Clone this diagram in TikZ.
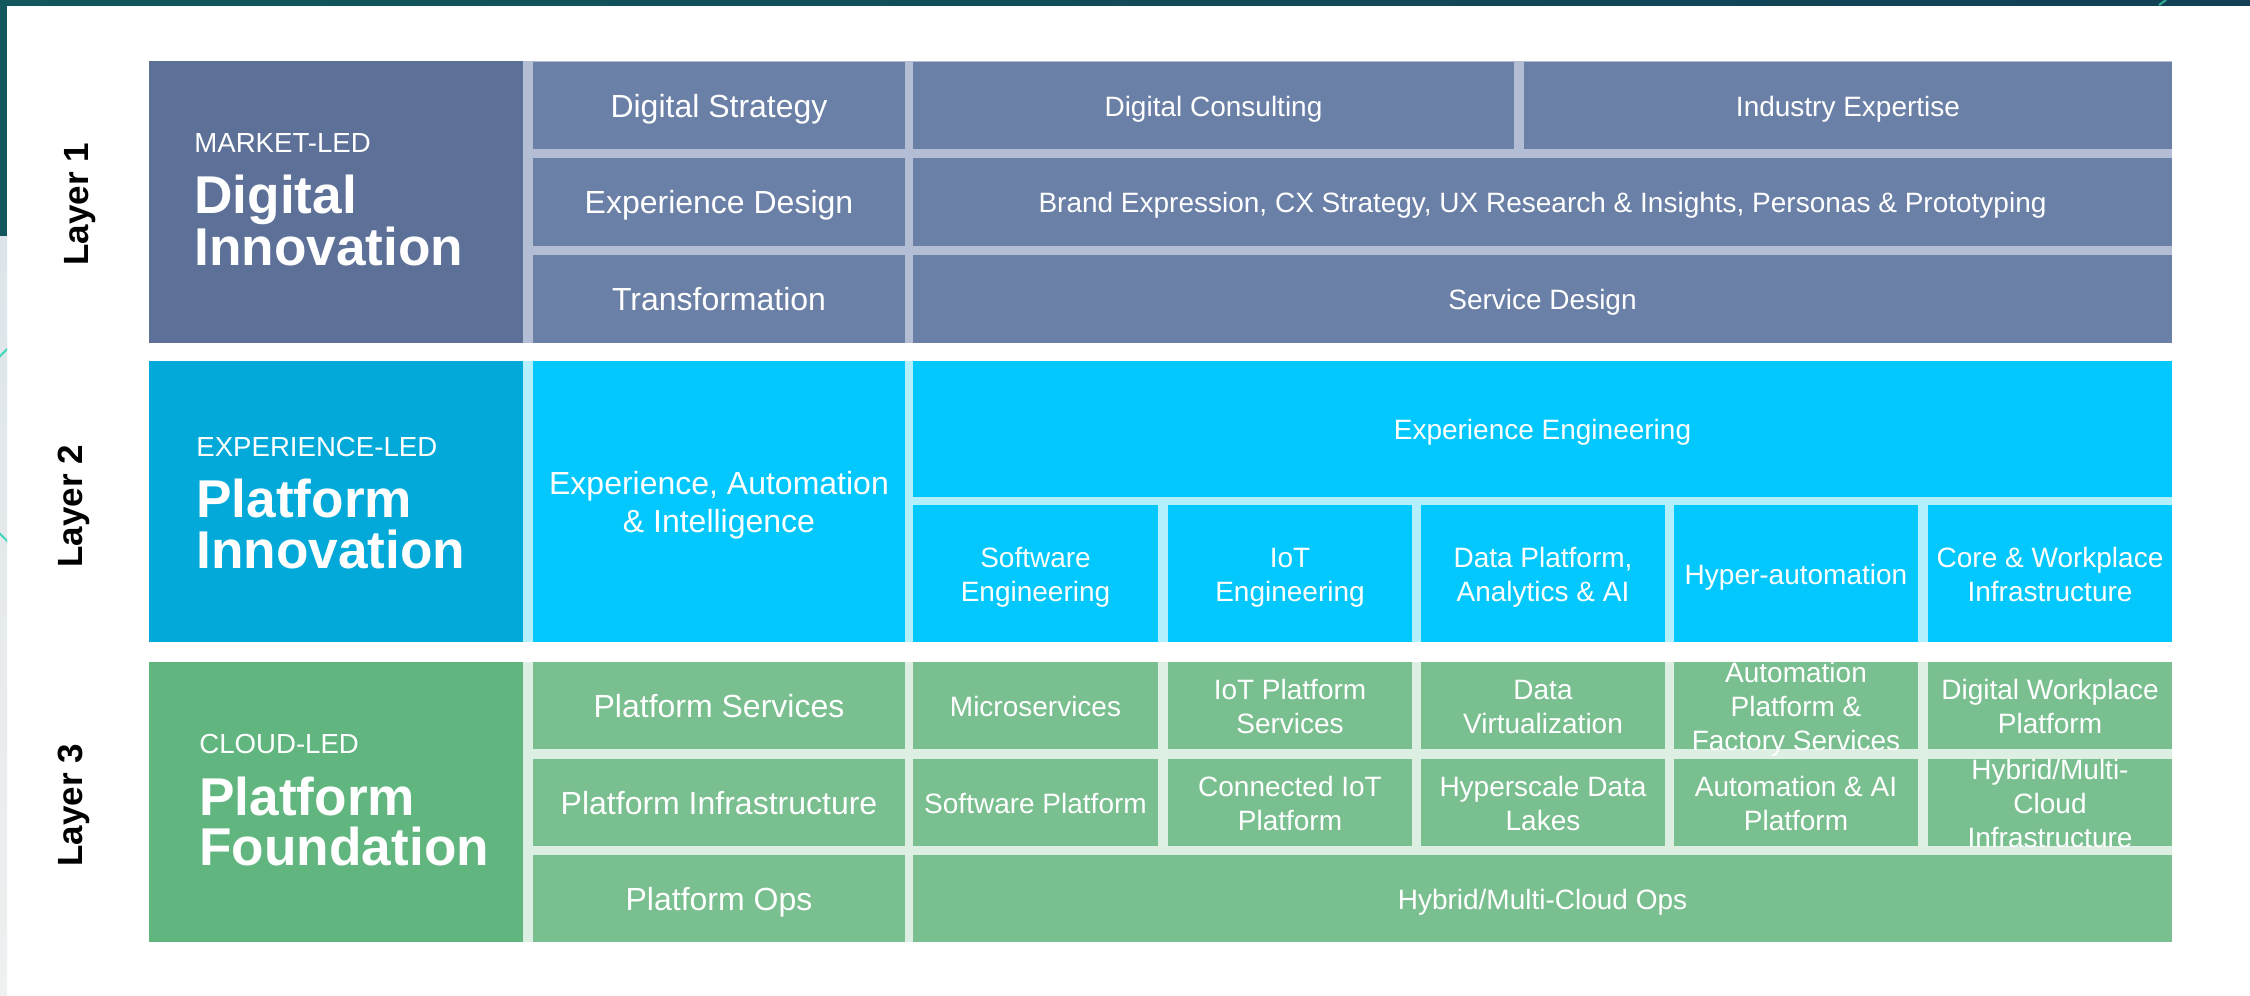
\documentclass[tikz,border=0pt]{standalone}
\usepackage{fontspec}
\setmainfont{Liberation Sans}
\pgfdeclarelayer{back}
\pgfsetlayers{back,main}
\definecolor{lAdark}{HTML}{5D7098}
\definecolor{lAcell}{HTML}{6B80A7}
\definecolor{lAgap}{HTML}{B3BDD3}
\definecolor{lBdark}{HTML}{03AAD9}
\definecolor{lBcell}{HTML}{03C8FD}
\definecolor{lBgap}{HTML}{B4EFFD}
\definecolor{lCdark}{HTML}{61B67F}
\definecolor{lCcell}{HTML}{7ABF8F}
\definecolor{lCgap}{HTML}{DDEEE3}
\definecolor{bandA}{HTML}{11575C}
\definecolor{bandB}{HTML}{123F55}
\definecolor{stripA}{HTML}{DDE5EA}
\definecolor{stripB}{HTML}{EFF0F0}
\definecolor{arcteal}{HTML}{3FD9B8}
% style, name, fill, x1, y1, x2, y2, text
\newcommand\mkcell[8]{%
  \begin{pgfonlayer}{back}\fill[#3] (#4,#5) rectangle (#6,#7);\end{pgfonlayer}
  \node[#1] (#2) at ({(#4+#6)/2},{(#5+#7)/2}) {\begin{tabular}{@{}c@{}}#8\end{tabular}};}
\begin{document}
\begin{tikzpicture}[x=0.5pt,y=-0.5pt,
  ctxt/.style={font=\fontsize{14}{17}\selectfont, text=white, inner sep=0pt, yshift=-2pt},
  ctxtL/.style={font=\fontsize{16}{19}\selectfont, text=white, inner sep=0pt, yshift=-2pt},
  layerlbl/.style={font=\bfseries\fontsize{17.5}{20}\selectfont, text=black, rotate=90, anchor=base west, inner sep=0pt},
  tagtxt/.style={font=\fontsize{13.8}{16}\selectfont, text=white, anchor=base west, inner sep=0pt},
  titletxt/.style={font=\bfseries\fontsize{26.6}{26}\selectfont, text=white, anchor=base west, inner sep=0pt}]
\useasboundingbox (0,0) rectangle (2250,996);
\begin{pgfonlayer}{back}
\fill[white] (0,0) rectangle (2250,996);
% slide frame remnants
\shade[left color=bandA, right color=bandB] (0,0) rectangle (2250,5);
\draw[arcteal!80!black, line width=1pt] (2159,5) -- (2166,0);
\fill[bandA] (0,0) rectangle (7,236);
\shade[top color=stripA, bottom color=stripB] (0,236) rectangle (7,996);
\begin{scope}
  \clip (0,236) rectangle (7,996);
  \draw[arcteal, line width=1pt] (95,445) circle (130);
\end{scope}
% layer backgrounds (gaps)
\fill[lAgap] (523,61) rectangle (2172,343);
\fill[lBgap] (523,361) rectangle (2172,642);
\fill[lCgap] (523,662) rectangle (2172,942);
% left blocks
\fill[lAdark] (149,61) rectangle (523,343);
\fill[lBdark] (149,361) rectangle (523,642);
\fill[lCdark] (149,662) rectangle (523,942);
\end{pgfonlayer}

% layer labels
\node[layerlbl] (l1) at (88,266) {Layer 1};
\node[layerlbl] (l2) at (83,568) {Layer 2};
\node[layerlbl] (l3) at (83,867) {Layer 3};

% left block texts
\node[tagtxt] (t1a) at (194,152) {MARKET-LED};
\node[titletxt] (t1b) at (194,213) {Digital};
\node[titletxt] (t1c) at (194,265) {Innovation};
\node[tagtxt] (t2a) at (196,456) {EXPERIENCE-LED};
\node[titletxt] (t2b) at (196,517) {Platform};
\node[titletxt] (t2c) at (196,568) {Innovation};
\node[tagtxt] (t3a) at (199,753) {CLOUD-LED};
\node[titletxt] (t3b) at (199,815) {Platform};
\node[titletxt] (t3c) at (199,865) {Foundation};

% Layer 1
\mkcell{ctxtL}{ds}{lAcell}{533}{62}{905}{149}{Digital Strategy}
\mkcell{ctxt}{dc}{lAcell}{913}{62}{1514}{149}{Digital Consulting}
\mkcell{ctxt}{ie}{lAcell}{1524}{62}{2172}{149}{Industry Expertise}
\mkcell{ctxtL}{ed}{lAcell}{533}{158}{905}{246}{Experience Design}
\mkcell{ctxt}{bx}{lAcell}{913}{158}{2172}{246}{Brand Expression, CX Strategy, UX Research \& Insights, Personas \& Prototyping}
\mkcell{ctxtL}{tf}{lAcell}{533}{255}{905}{343}{Transformation}
\mkcell{ctxt}{sd}{lAcell}{913}{255}{2172}{343}{Service Design}

% Layer 2
\mkcell{ctxtL}{eai}{lBcell}{533}{361}{905}{642}{Experience, Automation\\\& Intelligence}
\mkcell{ctxt}{ee}{lBcell}{913}{361}{2172}{497}{Experience Engineering}
\mkcell{ctxt}{se}{lBcell}{913}{505}{1158}{642}{Software\\Engineering}
\mkcell{ctxt}{ioe}{lBcell}{1168}{505}{1412}{642}{IoT\\Engineering}
\mkcell{ctxt}{dp}{lBcell}{1421}{505}{1665}{642}{Data Platform,\\Analytics \& AI}
\mkcell{ctxt}{ha}{lBcell}{1674}{505}{1918}{642}{Hyper-automation}
\mkcell{ctxt}{cw}{lBcell}{1928}{505}{2172}{642}{Core \& Workplace\\Infrastructure}

% Layer 3
\mkcell{ctxtL}{ps}{lCcell}{533}{662}{905}{749}{Platform Services}
\mkcell{ctxt}{ms}{lCcell}{913}{662}{1158}{749}{Microservices}
\mkcell{ctxt}{ips}{lCcell}{1168}{662}{1412}{749}{IoT Platform\\Services}
\mkcell{ctxt}{dv}{lCcell}{1421}{662}{1665}{749}{Data\\Virtualization}
\mkcell{ctxt}{ap}{lCcell}{1674}{662}{1918}{749}{Automation\\Platform \&\\Factory Services}
\mkcell{ctxt}{dw}{lCcell}{1928}{662}{2172}{749}{Digital Workplace\\Platform}
\mkcell{ctxtL}{pi}{lCcell}{533}{759}{905}{846}{Platform Infrastructure}
\mkcell{ctxt}{sp}{lCcell}{913}{759}{1158}{846}{Software Platform}
\mkcell{ctxt}{ci}{lCcell}{1168}{759}{1412}{846}{Connected IoT\\Platform}
\mkcell{ctxt}{hd}{lCcell}{1421}{759}{1665}{846}{Hyperscale Data\\Lakes}
\mkcell{ctxt}{aa}{lCcell}{1674}{759}{1918}{846}{Automation \& AI\\Platform}
\mkcell{ctxt}{hm}{lCcell}{1928}{759}{2172}{846}{Hybrid/Multi-\\Cloud\\Infrastructure}
\mkcell{ctxtL}{po}{lCcell}{533}{855}{905}{942}{Platform Ops}
\mkcell{ctxt}{hc}{lCcell}{913}{855}{2172}{942}{Hybrid/Multi-Cloud Ops}
\end{tikzpicture}
\end{document}
